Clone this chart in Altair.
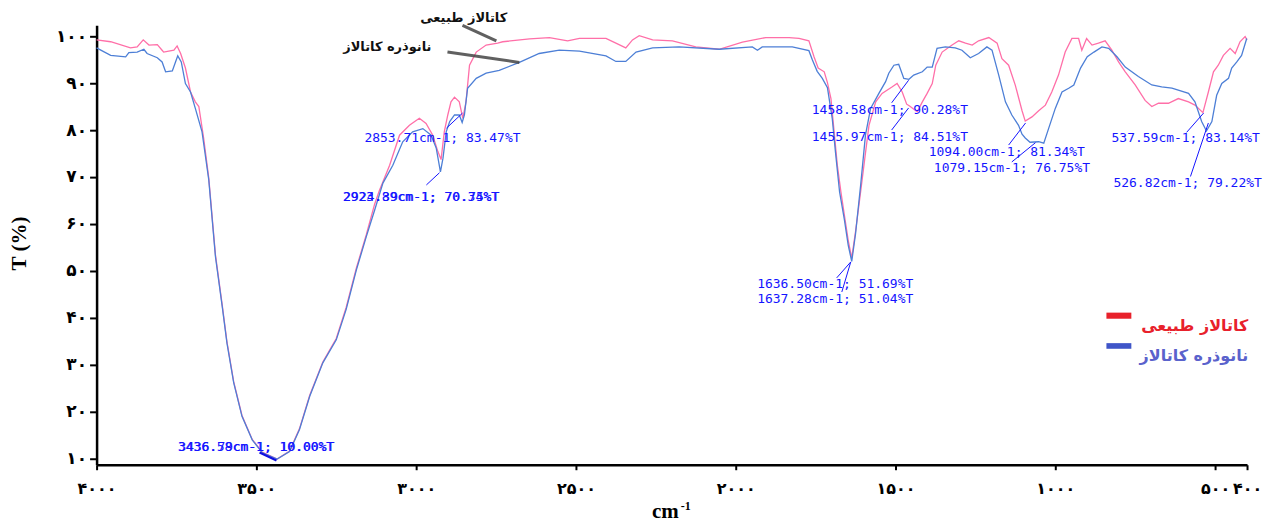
import altair as alt
import pandas as pd

# ---------------- data ----------------
series_names = ["کاتالاز طبیعی", "نانوذره کاتالاز"]

pink_wn = [4000, 3956, 3894, 3873, 3854, 3836, 3810, 3795, 3790, 3758,
           3748, 3737, 3722, 3706, 3691, 3680, 3665, 3649, 3628, 3607,
           3592, 3571, 3545, 3513, 3482, 3435, 3396, 3365, 3333, 3292,
           3250, 3219, 3187, 3156, 3130, 3115, 3083, 3052, 3021, 2990,
           2969, 2948, 2932, 2922, 2912, 2901, 2891, 2880, 2865, 2854,
           2844, 2833, 2812, 2781, 2745, 2729, 2645, 2583, 2526, 2489,
           2406, 2375, 2344, 2323, 2302, 2260, 2198, 2125, 2052, 1979,
           1906, 1833, 1802, 1771, 1755, 1742, 1723, 1713, 1702, 1692,
           1682, 1671, 1660, 1648, 1637, 1625, 1609, 1596, 1583, 1562,
           1542, 1510, 1495, 1479, 1465, 1456, 1432, 1416, 1401, 1385,
           1374, 1354, 1323, 1302, 1281, 1260, 1240, 1208, 1182, 1167,
           1146, 1125, 1104, 1094, 1073, 1052, 1031, 1011, 990, 969,
           948, 927, 917, 902, 885, 865, 844, 823, 802, 781,
           750, 719, 698, 677, 646, 615, 583, 563, 538, 521,
           505, 490, 474, 453, 437, 422, 406, 400]
pink_t = [99.2, 98.8, 97.5, 97.7, 99.2, 98.1, 98.2, 97.0, 96.6, 97.0,
          97.9, 96.3, 93.2, 88.1, 86.0, 85.0, 78.3, 69.8, 53.4, 42.8,
          34.9, 26.4, 19.2, 14.1, 11.4, 9.9, 11.6, 16.4, 23.5, 30.6,
          35.6, 42.2, 50.6, 57.7, 64.2, 67.1, 72.5, 78.9, 81.0, 82.5,
          81.4, 78.9, 75.4, 73.7, 79.6, 83.2, 86.0, 87.0, 86.0, 82.5,
          86.0, 93.8, 96.6, 98.1, 98.5, 98.8, 99.4, 99.7, 99.0, 99.5,
          99.5, 98.5, 97.5, 99.2, 100.1, 99.2, 99.0, 97.7, 97.2, 98.7,
          99.7, 99.7, 99.5, 99.0, 95.6, 93.2, 92.4, 90.1, 86.7, 79.6,
          72.5, 66.9, 61.9, 56.5, 52.7, 58.4, 66.9, 74.0, 81.0, 86.0,
          87.8, 89.2, 89.9, 88.1, 85.5, 85.1, 83.9, 86.0, 87.8, 89.9,
          93.8, 96.6, 98.1, 99.0, 98.5, 98.1, 99.0, 99.7, 98.5, 95.2,
          93.8, 89.5, 84.1, 81.9, 82.8, 84.1, 85.3, 88.1, 91.7, 96.6,
          99.5, 99.5, 97.0, 99.5, 98.1, 98.5, 99.0, 97.0, 94.5, 92.4,
          89.6, 86.3, 85.0, 85.7, 85.7, 86.7, 86.0, 85.3, 83.7, 88.1,
          92.4, 93.8, 95.9, 97.4, 96.3, 98.8, 99.9, 99.2]

blue_wn = [4000, 3956, 3909, 3899, 3873, 3852, 3842, 3810, 3795, 3784,
           3763, 3753, 3746, 3735, 3722, 3706, 3691, 3670, 3649, 3628,
           3607, 3592, 3571, 3545, 3513, 3482, 3435, 3396, 3365, 3333,
           3292, 3250, 3219, 3187, 3156, 3130, 3104, 3073, 3042, 3011,
           2979, 2953, 2937, 2924, 2916, 2906, 2895, 2880, 2865, 2856,
           2849, 2839, 2812, 2781, 2740, 2677, 2615, 2552, 2489, 2406,
           2375, 2344, 2312, 2260, 2177, 2052, 1948, 1932, 1917, 1823,
           1771, 1760, 1745, 1729, 1713, 1698, 1688, 1675, 1660, 1648,
           1637, 1625, 1609, 1594, 1578, 1552, 1531, 1521, 1505, 1490,
           1474, 1458, 1443, 1416, 1401, 1385, 1370, 1344, 1313, 1292,
           1266, 1240, 1214, 1198, 1177, 1156, 1136, 1115, 1104, 1094,
           1079, 1052, 1036, 1021, 1000, 979, 958, 942, 921, 900,
           879, 854, 833, 807, 781, 740, 698, 667, 635, 583,
           563, 542, 527, 510, 495, 479, 458, 448, 432, 417, 401]
blue_t = [97.5, 95.9, 95.6, 96.5, 96.6, 97.2, 96.3, 95.4, 94.5, 92.4,
          92.6, 94.5, 95.8, 94.5, 89.9, 88.1, 84.6, 79.6, 69.4, 53.0,
          42.5, 34.6, 26.2, 19.0, 14.0, 11.3, 9.9, 11.5, 16.2, 23.3,
          30.4, 35.3, 41.8, 50.2, 57.3, 62.9, 68.7, 72.5, 77.5, 79.6,
          80.3, 78.9, 76.1, 71.1, 74.0, 79.6, 81.8, 83.2, 83.2, 81.6,
          83.2, 88.9, 91.0, 92.1, 92.7, 94.4, 96.3, 97.0, 96.8, 95.8,
          94.6, 94.6, 96.6, 97.5, 97.7, 97.2, 97.7, 97.0, 97.7, 97.7,
          96.9, 94.9, 92.5, 91.0, 89.0, 82.5, 75.4, 66.8, 60.9, 55.5,
          52.0, 57.9, 68.3, 78.9, 84.6, 87.8, 90.3, 92.1, 93.8, 94.0,
          91.0, 90.8, 91.7, 92.4, 93.4, 93.4, 97.4, 97.7, 97.5, 97.0,
          95.4, 96.3, 97.7, 97.0, 91.7, 86.0, 83.2, 81.0, 79.1, 78.3,
          77.4, 77.5, 77.2, 80.3, 84.6, 88.1, 88.9, 89.6, 93.2, 95.6,
          96.6, 97.7, 97.4, 95.6, 93.4, 91.4, 89.6, 89.2, 88.9, 87.8,
          86.0, 81.8, 79.8, 81.8, 87.4, 89.9, 91.0, 93.2, 94.5, 95.9, 99.5]

x_ticks = [4000, 3500, 3000, 2500, 2000, 1500, 1000, 500, 400]
y_ticks = [10, 20, 30, 40, 50, 60, 70, 80, 90, 100]

# peak annotations (label text, label anchor, leader line)
ann_labels = ["3436.58cm-1; 10.00%T", "3436.79cm-1; 10.00%T",
              "2853.71cm-1; 83.47%T",
              "2923.89cm-1; 70.34%T", "2924.39cm-1; 70.75%T",
              "1458.58cm-1; 90.28%T", "1455.97cm-1; 84.51%T",
              "1094.00cm-1; 81.34%T", "1079.15cm-1; 76.75%T",
              "537.59cm-1; 83.14%T", "526.82cm-1; 79.22%T",
              "1636.50cm-1; 51.69%T", "1637.28cm-1; 51.04%T"]
ann_wn = [3746, 3744, 3162, 3230, 3228, 1762, 1762, 1396, 1380, 824, 818, 1933, 1933]
ann_t = [12.5, 12.5, 78.3, 65.7, 65.7, 84.3, 78.6, 75.3, 71.9, 78.3, 68.7, 47.3, 43.9]

lead_wn1 = [2905, 2968, 1512, 1512, 1146, 1136, 589, 577, 1684, 1668]
lead_t1 = [80.4, 68.3, 85.8, 80.0, 76.8, 73.2, 79.5, 70.1, 48.5, 45.5]
lead_wn2 = [2855, 2927, 1459, 1459, 1093, 1062, 536, 521, 1640, 1640]
lead_t2 = [83.6, 70.9, 90.6, 84.7, 81.5, 77.3, 83.6, 81.5, 51.9, 51.9]

min_wn1, min_t1, min_wn2, min_t2 = [3490], [11.3], [3437], [9.6]

# curve name call-outs at top
top_wn = [2715, 2952]
top_t = [103.9, 97.7]
ptr_wn1 = [2855, 2902]
ptr_t1 = [102.3, 96.6]
ptr_wn2 = [2749, 2677]
ptr_t2 = [99.0, 94.4]

# legend
leg_wn1 = [840, 840]
leg_wn2 = [762, 762]
leg_t1 = [41.1, 34.6]
leg_t2 = [39.8, 33.4]
leg_text_wn = [396, 396]
leg_text_t = [38.2, 31.9]

PINK = "#ff6fa8"
BLUE = "#4d7fd6"
ANN = "#1414ff"

# ---------------- chart ----------------
persian = "۰۱۲۳۴۵۶۷۸۹"
label_expr = "datum.label"
for i, ch in enumerate(persian):
    label_expr = f"replace({label_expr}, regexp('{i}', 'g'), '{ch}')"

xs = alt.Scale(domain=[400, 4000], reverse=True, nice=False, zero=False)
ys = alt.Scale(domain=[8.7, 102.3], nice=False, zero=False)

x_axis = alt.Axis(values=x_ticks, format="d", labelExpr=label_expr,
                  labelFont="DejaVu Sans", labelFontWeight="bold", labelFontSize=16,
                  labelColor="black", labelPadding=11, labelFlush=False, labelOverlap=False,
                  domainColor="black", domainWidth=2.5, tickColor="black", tickWidth=2,
                  tickSize=5, grid=False, title="cm", titleFont="Liberation Serif",
                  titleFontSize=21, titleFontWeight="bold", titleColor="black",
                  titleX=569, titleY=53, titleBaseline="alphabetic", titleAlign="center")
y_axis = alt.Axis(values=y_ticks, labelExpr=label_expr,
                  labelFont="DejaVu Sans", labelFontWeight="bold", labelFontSize=17,
                  labelColor="black", labelPadding=3, labelFlush=False,
                  domainColor="black", domainWidth=2.5, tickColor="black", tickWidth=2,
                  tickSize=7, grid=False, title="T (%)", titleFont="Liberation Serif",
                  titleFontSize=21, titleFontWeight="bold", titleColor="black",
                  titleX=-77, titleY=218, titleAngle=270, titleAlign="center",
                  titleBaseline="middle")


def X(field):
    return alt.X(field, type="quantitative", scale=xs, axis=x_axis)


def Y(field):
    return alt.Y(field, type="quantitative", scale=ys, axis=y_axis)


df = pd.concat([
    pd.DataFrame({"wn": pink_wn, "t": pink_t, "s": series_names[0]}),
    pd.DataFrame({"wn": blue_wn, "t": blue_t, "s": series_names[1]}),
])

lines = alt.Chart(df).mark_line(strokeWidth=1.3).encode(
    x=X("wn"), y=Y("t"),
    color=alt.Color("s:N", scale=alt.Scale(domain=series_names, range=[PINK, BLUE]), legend=None),
)

ann_df = pd.DataFrame({"label": ann_labels, "wn": ann_wn, "t": ann_t})
ann = alt.Chart(ann_df).mark_text(align="left", baseline="middle", font="DejaVu Sans Mono",
                                  fontSize=13, color=ANN).encode(
    x=X("wn"), y=Y("t"), text="label:N")

lead_df = pd.DataFrame({"wn": lead_wn1, "t": lead_t1, "c": lead_wn2, "d": lead_t2})
leads = alt.Chart(lead_df).mark_rule(color=ANN, strokeWidth=1).encode(
    x=X("wn"), y=Y("t"), x2="c:Q", y2="d:Q")

min_df = pd.DataFrame({"wn": min_wn1, "t": min_t1, "c": min_wn2, "d": min_t2})
min_lead = alt.Chart(min_df).mark_rule(color="#1010e0", strokeWidth=2.2).encode(
    x=X("wn"), y=Y("t"), x2="c:Q", y2="d:Q")

top_df = pd.DataFrame({"label": series_names, "wn": top_wn, "t": top_t})
top_text = alt.Chart(top_df).mark_text(align="right", baseline="middle", font="DejaVu Sans",
                                       fontWeight="bold", fontSize=13, color="#111111").encode(
    x=X("wn"), y=Y("t"), text="label:N")

ptr_df = pd.DataFrame({"wn": ptr_wn1, "t": ptr_t1, "c": ptr_wn2, "d": ptr_t2})
ptrs = alt.Chart(ptr_df).mark_rule(color="#444444", strokeWidth=3, opacity=0.85).encode(
    x=X("wn"), y=Y("t"), x2="c:Q", y2="d:Q")

leg_df = pd.DataFrame({"label": series_names, "wn": leg_wn1, "t": leg_t1, "c": leg_wn2,
                       "d": leg_t2, "tw": leg_text_wn, "tt": leg_text_t,
                       "col": ["#e8212b", "#3f55c8"], "tcol": ["#e8212b", "#5a62cc"]})
leg_rect = alt.Chart(leg_df).mark_rect().encode(
    x=X("wn"), y=Y("t"), x2="c:Q", y2="d:Q", color=alt.Color("col:N", scale=None))
leg_text = alt.Chart(leg_df).mark_text(align="right", baseline="middle", font="DejaVu Sans",
                                       fontWeight="bold", fontSize=16).encode(
    x=X("tw"), y=Y("tt"), text="label:N", color=alt.Color("tcol:N", scale=None))

sup = alt.Chart(pd.DataFrame({"s": ["-1"]})).mark_text(
    align="left", baseline="alphabetic", font="Liberation Serif", fontWeight="bold",
    fontSize=12, color="black").encode(x=alt.value(585), y=alt.value(485), text="s:N")

chart = alt.layer(lines, leads, min_lead, ann, ptrs, top_text, leg_rect, leg_text, sup).properties(
    width=1152, height=440,
    padding={"left": 88.7, "top": 17, "right": 22, "bottom": 58},
    autosize=alt.AutoSizeParams(type="none"),
).configure(background="white").configure_view(stroke=None)

chart.save("out.html", embed_options={"renderer": "svg", "actions": False})
